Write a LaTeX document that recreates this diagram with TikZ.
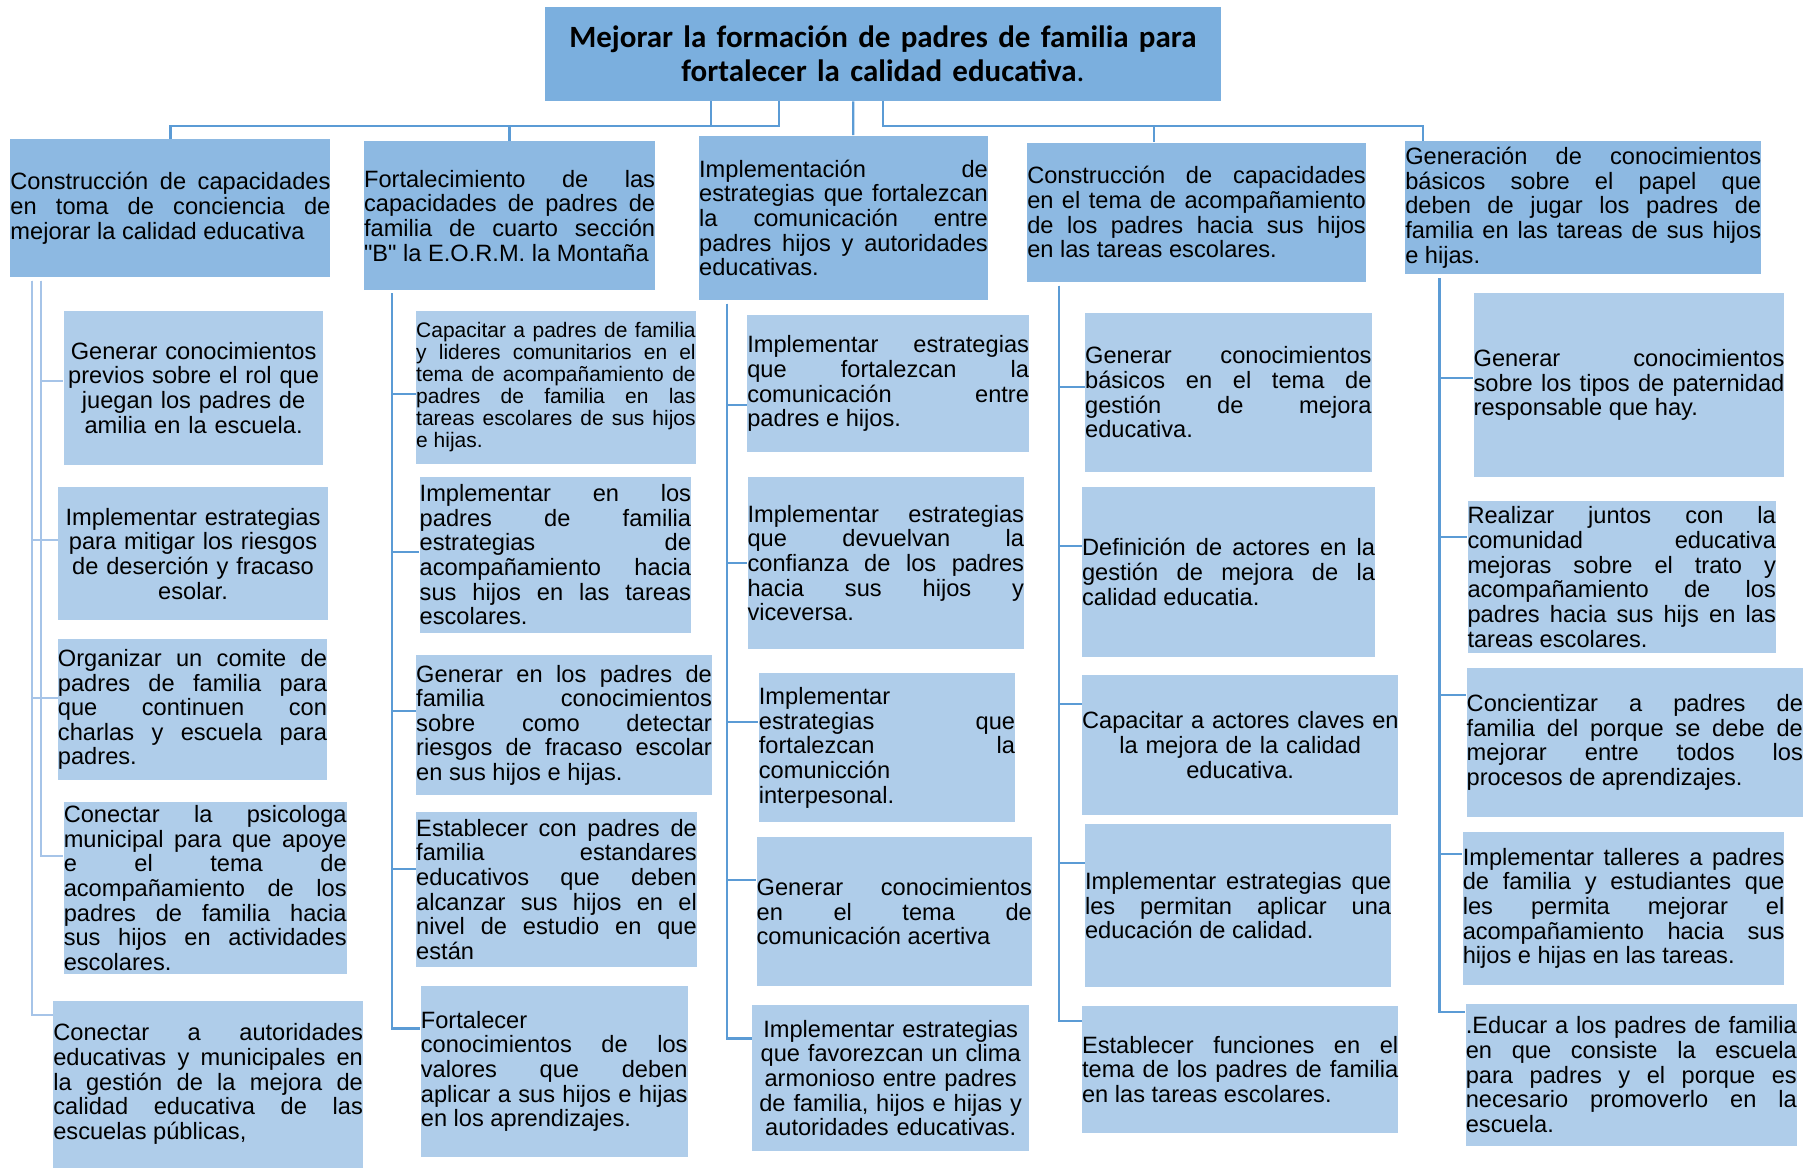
\documentclass[tikz,border=0pt]{standalone}
\usepackage{fontspec}
\setmainfont{Liberation Sans}
\newfontfamily\titlefont{Carlito}
\frenchspacing
\newlength{\pix}
\setlength{\pix}{0.02cm}
\definecolor{goalblue}{RGB}{123,175,222}
\definecolor{branchblue}{RGB}{141,185,226}
\definecolor{leafblue}{RGB}{175,205,234}
\definecolor{lineblue}{RGB}{91,155,213}
\definecolor{paleline}{RGB}{166,196,232}
\newcommand{\bodytext}{\fontsize{11.6}{12.1}\selectfont\tolerance=10000\hbadness=10000\relax}
\newcommand{\smalltext}{\fontsize{10.3}{10.8}\selectfont\tolerance=10000\hbadness=10000\relax}
\tikzstyle{goal} = [rectangle, fill=goalblue, inner sep=0pt, align=center, font=\titlefont\bfseries\fontsize{15.2}{16.5}\selectfont]
\tikzstyle{branch} = [rectangle, fill=branchblue, inner sep=0pt, align=justify, font=\bodytext]
\tikzstyle{leaf} = [rectangle, fill=leafblue, inner sep=0pt, align=justify, font=\bodytext]
\tikzstyle{link} = [lineblue, line width=1.1pt]
\tikzstyle{palelink} = [paleline, line width=1pt]

\begin{document}
\begin{tikzpicture}[x=0.02cm, y=-0.02cm, box/.style 2 args={minimum width=#1\pix, minimum height=#2\pix, text width=#1\pix}]
        \useasboundingbox (0,0) rectangle (1568,1007);

        \node (goal) [goal, box={583}{81}] at (761.5,46.5) {Mejorar la formación de padres de familia para\\fortalecer la calidad educativa\textmd{.}};

        \node (b1) [branch, box={276}{119}] at (147,179.5) {Construcción de capacidades\linebreak en toma de conciencia de\linebreak mejorar la calidad educativa};
        \node (b2) [branch, box={251}{128}] at (439.5,186) {Fortalecimiento de las\linebreak capacidades de padres de\linebreak familia de cuarto sección\linebreak \textquotedbl B\textquotedbl{} la E.O.R.M. la Montaña};
        \node (b3) [branch, box={249}{142}] at (727.5,188) {Implementación de\linebreak estrategias que fortalezcan\linebreak la comunicación entre\linebreak padres hijos y autoridades\linebreak educativas.};
        \node (b4) [branch, box={292}{120}] at (1032,183) {Construcción de capacidades\linebreak en el tema de acompañamiento\linebreak de los padres hacia sus hijos\linebreak en las tareas escolares.};
        \node (b5) [branch, box={307}{114}] at (1365.5,179) {Generación de conocimientos\linebreak básicos sobre el papel que\linebreak deben de jugar los padres de\linebreak familia en las tareas de sus hijos\linebreak e hijas.};

        \node (c1a) [leaf, align=center, box={224}{133}] at (167,334.5) {Generar conocimientos\\previos sobre el rol que\\juegan los padres de\\amilia en la escuela.};
        \node (c1b) [leaf, align=center, box={233}{115}] at (166.5,477.5) {Implementar estrategias\\para mitigar los riesgos\\de deserción y fracaso\\esolar.};
        \node (c1c) [leaf, box={232}{122}] at (166,612) {Organizar un comite de\linebreak padres de familia para\linebreak que continuen con\linebreak charlas y escuela para\linebreak padres.};
        \node (c1d) [leaf, box={244}{148}] at (177,766) {Conectar la psicologa\linebreak municipal para que apoye\linebreak e el tema de\linebreak acompañamiento de los\linebreak padres de familia hacia\linebreak sus hijos en actividades\linebreak escolares.};
        \node (c1e) [leaf, box={267}{144}] at (179.5,935) {Conectar a autoridades\linebreak educativas y municipales en\linebreak la gestión de la mejora de\linebreak calidad educativa de las\linebreak escuelas públicas,};

        \node (c2a) [leaf, font=\smalltext, box={241}{132}] at (479.5,334) {Capacitar a padres de familia\linebreak y lideres comunitarios en el\linebreak tema de acompañamiento de\linebreak padres de familia en las\linebreak tareas escolares de sus hijos\linebreak e hijas.};
        \node (c2b) [leaf, box={234}{135}] at (479,478.5) {Implementar en los\linebreak padres de familia\linebreak estrategias de\linebreak acompañamiento hacia\linebreak sus hijos en las tareas\linebreak escolares.};
        \node (c2c) [leaf, box={255}{121}] at (486.5,625.5) {Generar en los padres de\linebreak familia conocimientos\linebreak sobre como detectar\linebreak riesgos de fracaso escolar\linebreak en sus hijos e hijas.};
        \node (c2d) [leaf, box={242}{134}] at (480,767) {Establecer con padres de\linebreak familia estandares\linebreak educativos que deben\linebreak alcanzar sus hijos en el\linebreak nivel de estudio en que\linebreak están};
        \node (c2e) [leaf, box={230}{147}] at (478,924) {Fortalecer\linebreak conocimientos de los\linebreak valores que deben\linebreak aplicar a sus hijos e hijas\linebreak en los aprendizajes.};

        \node (c3a) [leaf, box={243}{118.5}] at (766,331) {Implementar estrategias\linebreak que fortalezcan la\linebreak comunicación entre\linebreak padres e hijos.};
        \node (c3b) [leaf, box={238.5}{148.5}] at (764,485.7) {Implementar estrategias\linebreak que devuelvan la\linebreak confianza de los padres\linebreak hacia sus hijos y\linebreak viceversa.};
        \node (c3c) [leaf, box={221}{128.5}] at (765,644.8) {Implementar\linebreak estrategias que\linebreak fortalezcan la\linebreak comunicción\linebreak interpesonal.};
        \node (c3d) [leaf, box={237.4}{128.5}] at (771.3,786.2) {Generar conocimientos\linebreak en el tema de\linebreak comunicación acertiva};
        \node (c3e) [leaf, align=center, box={238.5}{125.5}] at (768.2,929.7) {Implementar estrategias\\que favorezcan un clima\\armonioso entre padres\\de familia, hijos e hijas y\\autoridades educativas.};

        \node (c4a) [leaf, box={247}{137}] at (1059.4,338.5) {Generar conocimientos\linebreak básicos en el tema de\linebreak gestión de mejora\linebreak educativa.};
        \node (c4b) [leaf, box={252.7}{146.4}] at (1059.6,493.2) {Definición de actores en la\linebreak gestión de mejora de la\linebreak calidad educatia.};
        \node (c4c) [leaf, align=center, box={272.7}{121}] at (1069.6,642.5) {\mbox{Capacitar a actores claves en}\\la mejora de la calidad\\educativa.};
        \node (c4d) [leaf, box={264}{140.5}] at (1067.8,781.2) {Implementar estrategias que\linebreak les permitan aplicar una\linebreak educación de calidad.};
        \node (c4e) [leaf, box={272.7}{110}] at (1069.6,922.4) {Establecer funciones en el\linebreak tema de los padres de familia\linebreak en las tareas escolares.};

        \node (c5a) [leaf, box={268}{159}] at (1405,332) {Generar conocimientos\linebreak sobre los tipos de paternidad\linebreak responsable que hay.};
        \node (c5b) [leaf, box={266}{131.5}] at (1398.7,497.7) {Realizar juntos con la\linebreak comunidad educativa\linebreak mejoras sobre el trato y\linebreak acompañamiento de los\linebreak padres hacia sus hijs en las\linebreak tareas escolares.};
        \node (c5c) [leaf, box={290}{128}] at (1410,640.4) {Concientizar a padres de\linebreak familia del porque se debe de\linebreak mejorar entre todos los\linebreak procesos de aprendizajes.};
        \node (c5d) [leaf, box={277.4}{132.3}] at (1400.3,783.5) {Implementar talleres a padres\linebreak de familia y estudiantes que\linebreak les permita mejorar el\linebreak acompañamiento hacia sus\linebreak hijos e hijas en las tareas.};
        \node (c5e) [leaf, box={285.5}{123}] at (1407,927) {.Educar a los padres de familia\linebreak en que consiste la escuela\linebreak para padres y el porque es\linebreak necesario promoverlo en la\linebreak escuela.};

        \draw [link] ([xshift=-148.5\pix]goal.south) -- ++(0,21.5) -| (b1.north);
        \draw [link] ([xshift=-89.5\pix]goal.south) -- ++(0,21.5) -| (b2.north);
        \draw [link] ([xshift=-25.5\pix]goal.south) -- ([xshift=8.5\pix]b3.north);
        \draw [link] (goal.south) -- ++(0,21.5) -| ([xshift=-37\pix]b4.north);
        \draw [link] (goal.south) -- ++(0,21.5) -| ([xshift=-138.5\pix]b5.north);

        \coordinate (t1o) at (27.5,242);
        \coordinate (t1i) at (35,242);
        \coordinate (t2) at (338,253);
        \coordinate (t3) at (627,262);
        \coordinate (t4) at (913.5,246.5);
        \coordinate (t5) at (1241.5,240);
        \foreach \n/\d in {c1b/11.5, c1c/10, c1e/59.5}
            \draw [palelink] (t1o) |- ([yshift=\d\pix]\n.west);
        \foreach \n/\d in {c1a/5.5, c1d/27.5}
            \draw [palelink] (t1i) |- ([yshift=\d\pix]\n.west);
        \foreach \n/\d in {c2a/-6, c2b/2.5, c2c/12.5, c2d/17.4, c2e/37}
            \draw [link] (t2) |- ([yshift=\d\pix]\n.west);
        \foreach \n/\d in {c3a/-18, c3b/0, c3c/22, c3d/27, c3e/34}
            \draw [link] (t3) |- ([yshift=\d\pix]\n.west);
        \foreach \n/\d in {c4a/4.7, c4b/22, c4c/35.5, c4d/37, c4e/42}
            \draw [link] (t4) |- ([yshift=\d\pix]\n.west);
        \foreach \n/\d in {c5a/5.7, c5b/34.7, c5c/41, c5d/47, c5e/54}
            \draw [link] (t5) |- ([yshift=\d\pix]\n.west);

\end{tikzpicture}
\end{document}
